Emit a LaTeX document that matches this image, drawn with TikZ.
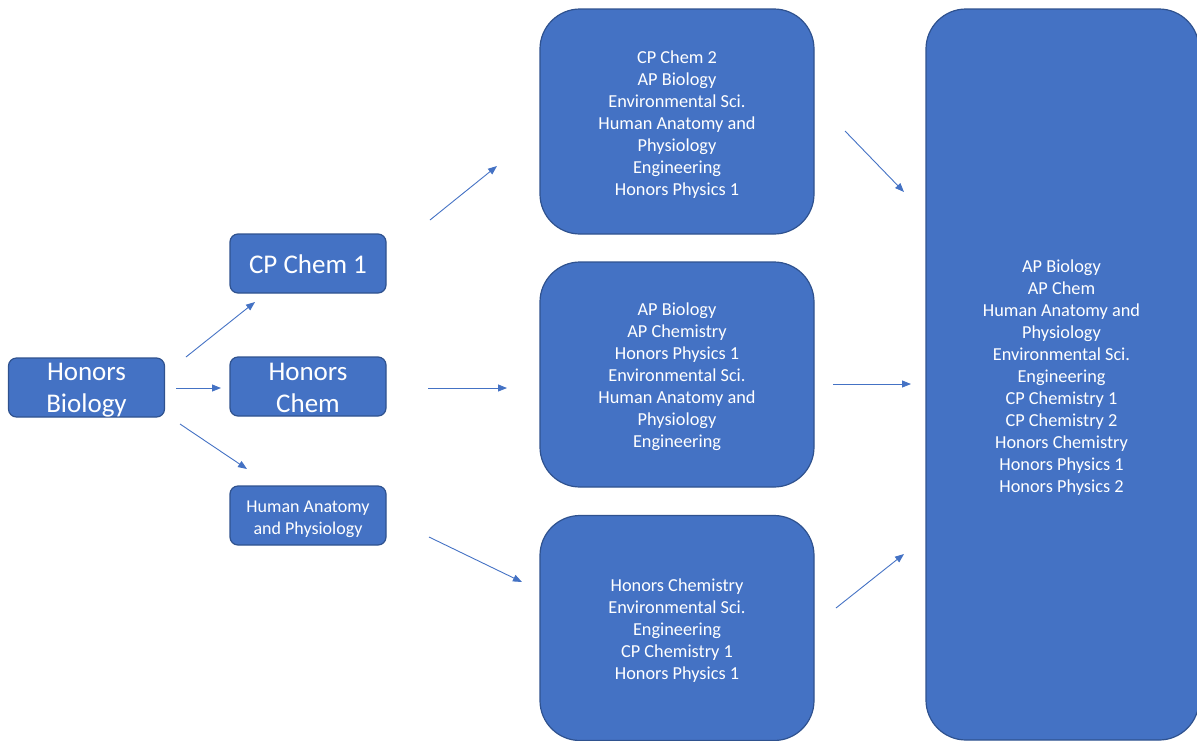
\documentclass[tikz,border=0pt]{standalone}
\usepackage{fontspec}
\setmainfont{Carlito}
\usetikzlibrary{arrows.meta}
\definecolor{boxfill}{HTML}{4472C4}
\definecolor{boxedge}{HTML}{2F528F}
\tikzset{
  cbox/.style={draw=boxedge, fill=boxfill, line width=1.2pt, inner sep=0pt, anchor=center},
  smallbox/.style={cbox, rounded corners=8pt, minimum width=156pt, minimum height=59pt},
  midbox/.style={cbox, rounded corners=40pt, minimum width=274pt, minimum height=225pt},
  txt/.style={text=white, align=center, inner sep=0pt},
  bigtxt/.style={txt, font=\fontsize{27}{32}\selectfont},
  smtxt/.style={txt, font=\fontsize{18.3}{22}\selectfont},
  arr/.style={-{Triangle[length=9pt,width=7pt]}, draw=boxfill, line width=0.9pt}
}
\begin{document}
\begin{tikzpicture}[x=1pt,y=-1pt]
\useasboundingbox (0,0) rectangle (1197,740);
% left column
\node[smallbox, label={[bigtxt,yshift=-3pt]center:{Honors\\Biology}}] (bio) at (86.5,387.5) {};
\node[smallbox, label={[bigtxt,yshift=-1pt]center:{CP Chem 1}}] (cp1) at (308,263.5) {};
\node[smallbox, label={[bigtxt,yshift=-1pt]center:{Honors\\Chem}}] (hchem) at (308,386.5) {};
\node[smallbox, label={[smtxt,font=\fontsize{18}{22}\selectfont,yshift=-4pt]center:{Human Anatomy\\and Physiology}}] (hap) at (308,515.5) {};
% middle column
\node[midbox, label={[smtxt,yshift=-3pt]center:{CP Chem 2\\AP Biology\\Environmental Sci.\\Human Anatomy and\\Physiology\\Engineering\\Honors Physics 1}}] (ba) at (677,121.5) {};
\node[midbox, label={[smtxt,yshift=-2pt]center:{AP Biology\\AP Chemistry\\Honors Physics 1\\Environmental Sci.\\Human Anatomy and\\Physiology\\Engineering}}] (bb) at (677,374.5) {};
\node[midbox, label={[smtxt,yshift=-3pt]center:{Honors Chemistry\\Environmental Sci.\\Engineering\\CP Chemistry 1\\Honors Physics 1}}] (bc) at (677,628) {};
% right column
\node[cbox, rounded corners=40pt, minimum width=273pt, minimum height=731pt, label={[smtxt,xshift=-1pt,yshift=-3pt]center:{AP Biology\\AP Chem\\Human Anatomy and\\Physiology\\Environmental Sci.\\Engineering\\CP Chemistry 1\\CP Chemistry 2\\Honors Chemistry\\Honors Physics 1\\Honors Physics 2}}] (big) at (1062.5,374.5) {};
% arrow endpoints
\coordinate (a1s) at (186,357); \coordinate (a1e) at (255,302);
\coordinate (a2s) at (176,388); \coordinate (a2e) at (221,388);
\coordinate (a3s) at (180,424); \coordinate (a3e) at (247,469);
\coordinate (a4s) at (430,220); \coordinate (a4e) at (497,166);
\coordinate (a5s) at (428,388); \coordinate (a5e) at (507,388);
\coordinate (a6s) at (429,537); \coordinate (a6e) at (522,582);
\coordinate (a7s) at (845,131); \coordinate (a7e) at (904,192);
\coordinate (a8s) at (833,384); \coordinate (a8e) at (911,384);
\coordinate (a9s) at (836,608); \coordinate (a9e) at (904,554);
\draw[arr] (a1s) -- (a1e);
\draw[arr] (a2s) -- (a2e);
\draw[arr] (a3s) -- (a3e);
\draw[arr] (a4s) -- (a4e);
\draw[arr] (a5s) -- (a5e);
\draw[arr] (a6s) -- (a6e);
\draw[arr] (a7s) -- (a7e);
\draw[arr] (a8s) -- (a8e);
\draw[arr] (a9s) -- (a9e);
\end{tikzpicture}
\end{document}
